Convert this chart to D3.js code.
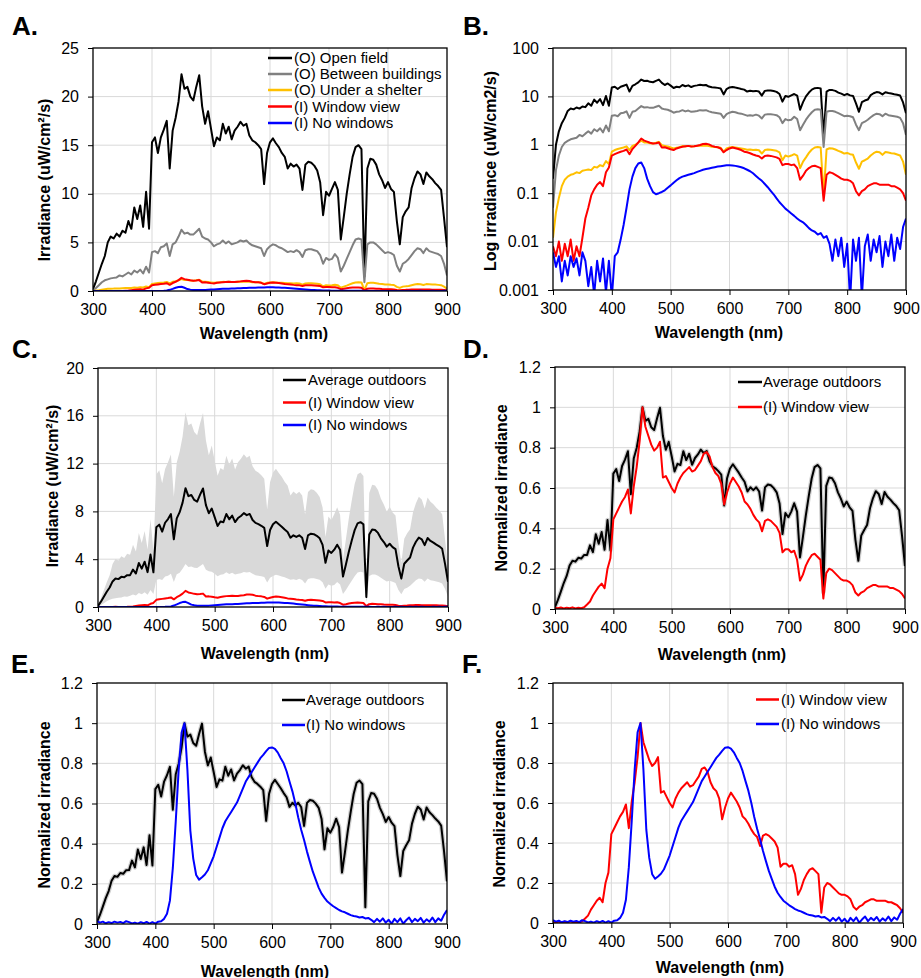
<!DOCTYPE html>
<html>
<head>
<meta charset="utf-8">
<script src="https://cdn.jsdelivr.net/npm/d3@7"></script>
<style>
    body { margin: 0; background: #fff; }
    svg { display: block; font-family: "Liberation Sans", Arial, sans-serif; }
</style>
</head>
<body>
<svg id="chart" width="921" height="978"></svg>
<script>
// wavelength grid (nm), 5 nm steps
const wavelengths = d3.range(300, 901, 5)

const openField = [
    0.2, 1.0, 1.9, 2.8, 3.6, 5.0, 5.6, 5.4, 5.9, 5.6,
    6.2, 6.0, 7.2, 6.4, 8.6, 7.4, 8.8, 6.6, 10.2, 6.4,
    15.3, 15.8, 14.2, 15.8, 16.6, 17.5, 12.6, 16.5, 17.8, 19.5,
    22.3, 20.8, 21.0, 20.0, 19.6, 21.0, 22.2, 19.0, 17.2, 18.5,
    16.7, 14.9, 15.8, 15.5, 17.2, 16.2, 16.9, 15.6, 16.5, 16.9,
    17.4, 17.0, 17.2, 16.0, 15.5, 15.3, 15.0, 14.6, 11.0, 14.2,
    15.3, 15.7, 15.2, 14.8, 14.2, 13.8, 12.6, 13.1, 12.8, 13.0,
    12.6, 10.4, 13.0, 13.3, 13.2, 12.9, 12.4, 11.2, 7.8, 10.2,
    9.8, 10.5, 11.2, 10.4, 5.3, 7.6, 10.0, 12.0, 13.8, 14.8,
    15.0, 14.6, 1.5, 12.6, 13.6, 13.5, 13.0, 12.0, 11.4, 10.6,
    11.2, 10.5, 10.2, 7.2, 4.8, 7.6, 8.2, 8.6, 10.6, 11.6,
    12.3, 12.0, 11.0, 12.2, 11.8, 11.5, 11.1, 10.8, 10.4, 7.5,
    4.5
]
const betweenBuildings = [
    0.05, 0.3, 0.6, 0.9, 1.1, 1.2, 1.3, 1.35, 1.4, 1.6,
    1.5, 1.7, 1.9, 1.7, 2.1, 1.9, 2.2, 1.8, 2.5, 1.9,
    4.0, 4.1, 3.9, 4.5, 4.6, 4.9, 3.6, 4.8, 5.0, 5.6,
    6.3, 5.9, 6.0, 5.8, 5.8, 6.1, 6.4, 5.6, 5.4, 5.3,
    5.0, 4.6, 4.8, 4.9, 5.2, 4.9, 5.1, 4.8, 4.9, 5.0,
    5.2, 5.1, 5.2, 4.9, 4.7, 4.6, 4.5, 4.4, 3.6, 4.3,
    4.6, 4.8, 4.7, 4.5, 4.4, 4.2, 4.0, 4.1, 4.0, 4.2,
    4.0, 3.5, 4.2, 4.3, 4.3, 4.2, 4.1, 3.7, 2.8, 3.4,
    3.2, 3.3, 3.8, 3.4, 2.0, 2.6, 3.3, 4.0, 4.7, 5.3,
    5.4, 5.3, 0.9, 4.8, 5.0, 5.0, 4.8, 4.5, 4.2, 3.9,
    4.0, 3.9, 3.7, 2.6, 2.0, 2.8, 3.0, 3.3, 3.7, 4.1,
    4.4, 4.3, 3.9, 4.4, 4.1, 4.0, 3.9, 3.8, 3.6, 2.8,
    1.6
]
const underShelter = [
    0.012, 0.04, 0.08, 0.14, 0.19, 0.22, 0.24, 0.25, 0.27, 0.26,
    0.29, 0.30, 0.31, 0.30, 0.35, 0.34, 0.38, 0.36, 0.46, 0.40,
    0.72, 0.78, 0.82, 0.85, 0.88, 0.93, 0.78, 0.95, 1.0, 1.1,
    1.22, 1.12, 1.12, 1.08, 1.06, 1.1, 1.15, 0.98, 0.95, 0.92,
    0.88, 0.84, 0.87, 0.89, 0.94, 0.92, 0.95, 0.92, 0.93, 0.95,
    0.97, 0.96, 0.97, 0.94, 0.91, 0.9, 0.89, 0.87, 0.72, 0.84,
    0.88, 0.9, 0.88, 0.86, 0.84, 0.82, 0.79, 0.8, 0.78, 0.79,
    0.77, 0.66, 0.78, 0.8, 0.79, 0.77, 0.75, 0.7, 0.48, 0.6,
    0.57, 0.6, 0.64, 0.6, 0.33, 0.45, 0.55, 0.68, 0.8, 0.88,
    0.9, 0.88, 0.09, 0.8, 0.85, 0.84, 0.8, 0.75, 0.71, 0.66,
    0.68, 0.64, 0.62, 0.43, 0.32, 0.45, 0.48, 0.52, 0.6, 0.67,
    0.72, 0.7, 0.62, 0.71, 0.69, 0.67, 0.66, 0.63, 0.6, 0.45,
    0.24
]
const windowView = [
    0.008, 0.005, 0.010, 0.004, 0.009, 0.005, 0.011, 0.004, 0.008, 0.005,
    0.012, 0.03, 0.05, 0.09, 0.12, 0.15, 0.17, 0.14, 0.27, 0.34,
    0.60, 0.64, 0.68, 0.72, 0.75, 0.80, 0.64, 0.82, 0.95, 1.12,
    1.35, 1.22, 1.16, 1.10, 1.06, 1.08, 1.12, 0.88, 0.89, 0.85,
    0.81, 0.78, 0.84, 0.88, 0.91, 0.93, 0.95, 0.92, 0.93, 0.96,
    0.99, 1.04, 1.05, 1.02, 0.95, 0.91, 0.89, 0.84, 0.70, 0.78,
    0.84, 0.88, 0.85, 0.82, 0.78, 0.72, 0.70, 0.67, 0.63, 0.60,
    0.58, 0.52, 0.59, 0.60, 0.59, 0.57, 0.55, 0.51, 0.38, 0.40,
    0.40, 0.38, 0.39, 0.33, 0.19, 0.23, 0.29, 0.33, 0.36, 0.37,
    0.35, 0.33, 0.07, 0.24, 0.27, 0.26, 0.24, 0.22, 0.20, 0.19,
    0.19, 0.18, 0.16, 0.11, 0.09, 0.11, 0.12, 0.14, 0.15, 0.16,
    0.16, 0.15, 0.15, 0.15, 0.15, 0.14, 0.14, 0.13, 0.12, 0.10,
    0.07
]
const noWindows = [
    0.006, 0.003, 0.005, 0.0015, 0.004, 0.002, 0.005, 0.003, 0.0045, 0.002,
    0.006, 0.004, 0.0012, 0.003, 0.0008, 0.004, 0.0015, 0.0045, 0.0009, 0.004,
    0.0007, 0.005, 0.006, 0.011, 0.022, 0.05, 0.12, 0.22, 0.33, 0.41,
    0.43, 0.33, 0.2, 0.14, 0.105, 0.095, 0.1, 0.106, 0.115, 0.13,
    0.145, 0.165, 0.185, 0.205, 0.22, 0.23, 0.24, 0.25, 0.26, 0.275,
    0.29, 0.305, 0.315, 0.325, 0.335, 0.345, 0.355, 0.362, 0.37, 0.377,
    0.378, 0.375, 0.367, 0.355, 0.344, 0.327, 0.305, 0.284, 0.258, 0.228,
    0.202, 0.18, 0.155, 0.133, 0.112, 0.095, 0.078, 0.065, 0.056, 0.048,
    0.043, 0.038, 0.034, 0.03, 0.027, 0.025, 0.022, 0.019, 0.017, 0.016,
    0.014, 0.015, 0.012, 0.013, 0.009, 0.004, 0.011, 0.005, 0.012, 0.003,
    0.009, 0.0006, 0.011, 0.004, 0.012, 0.0007, 0.008, 0.014, 0.004, 0.011,
    0.006, 0.013, 0.003, 0.01, 0.005, 0.014, 0.004, 0.012, 0.007, 0.02,
    0.03
]

const xTicks = [300, 400, 500, 600, 700, 800, 900]
const irrTicks = [0, 5, 10, 15, 20, 25]
const logTicks = [0.001, 0.01, 0.1, 1, 10, 100]
const avgTicks = [0, 4, 8, 12, 16, 20]
const normTicks = [0, 0.2, 0.4, 0.6, 0.8, 1, 1.2]

// derived series: mean +/- SEM of the outdoor spectra, and peak-normalized spectra
const outdoor = [openField, betweenBuildings, underShelter]
const avgOutdoors = wavelengths.map((w, i) => d3.mean(outdoor, s => s[i]))
const semOutdoors = wavelengths.map((w, i) => d3.deviation(outdoor, s => s[i]) / Math.sqrt(outdoor.length))
const normalize = arr => { const m = d3.max(arr); return arr.map(v => v / m) }
const avgNorm = normalize(avgOutdoors)
const windowNorm = normalize(windowView)
const noWindowsNorm = normalize(noWindows)

const BLACK = "#000000", GREY = "#808080", YELLOW = "#FFC000", RED = "#FF0000", BLUE = "#0000FF"

const svg = d3.select("#chart")
const fmt = d3.format("~g")

function drawPanel(p) {
    const g = svg.append("g")
    const x = d3.scaleLinear().domain([300, 900]).range([p.left, p.right])
    const y = (p.log ? d3.scaleLog() : d3.scaleLinear()).domain(p.yDomain).range([p.bottom, p.top])

    svg.append("clipPath").attr("id", "clip-" + p.id)
        .append("rect")
        .attr("x", p.left).attr("y", p.top)
        .attr("width", p.right - p.left).attr("height", p.bottom - p.top)

    // gridlines
    g.append("g").selectAll("line").data(xTicks.slice(1, -1)).enter().append("line")
        .attr("x1", d => x(d)).attr("x2", d => x(d))
        .attr("y1", p.top).attr("y2", p.bottom)
        .attr("stroke", "#d9d9d9").attr("stroke-width", 1)
    g.append("g").selectAll("line").data(p.yTicks.slice(1, -1)).enter().append("line")
        .attr("x1", p.left).attr("x2", p.right)
        .attr("y1", d => y(d)).attr("y2", d => y(d))
        .attr("stroke", "#d9d9d9").attr("stroke-width", 1)

    const plot = g.append("g").attr("clip-path", `url(#clip-${p.id})`)

    if (p.band) {
        const area = d3.area()
            .x((d, i) => x(wavelengths[i]))
            .y0(d => y(d[0]))
            .y1(d => y(d[1]))
        plot.append("path")
            .datum(p.band)
            .attr("d", area)
            .attr("fill", "#d9d9d9")
    }

    const line = d3.line()
        .x((d, i) => x(wavelengths[i]))
        .y(d => y(d))

    p.series.forEach(s => {
        plot.append("path")
            .datum(s.values)
            .attr("d", line)
            .attr("fill", "none")
            .attr("stroke", s.color)
            .attr("stroke-width", s.width || 2)
            .attr("stroke-linejoin", "round")
    })

    // frame
    g.append("rect")
        .attr("x", p.left).attr("y", p.top)
        .attr("width", p.right - p.left).attr("height", p.bottom - p.top)
        .attr("fill", "none").attr("stroke", "#000").attr("stroke-width", 1.3)

    // axes
    const xAxis = g.append("g")
        .attr("transform", `translate(0,${p.bottom})`)
        .call(d3.axisBottom(x).tickValues(xTicks).tickSize(5).tickPadding(8).tickFormat(d3.format("d")))
    const yAxis = g.append("g")
        .attr("transform", `translate(${p.left},0)`)
        .call(d3.axisLeft(y).tickValues(p.yTicks).tickSize(5).tickPadding(9).tickFormat(fmt))
    ;[xAxis, yAxis].forEach(a => {
        a.select(".domain").remove()
        a.selectAll("line").attr("stroke", "#000")
        a.selectAll("text").attr("font-size", 16).attr("fill", "#000")
            .attr("font-family", "\"Liberation Sans\", Arial, sans-serif")
    })

    // titles
    g.append("text")
        .attr("x", p.letter[0]).attr("y", p.letter[1])
        .attr("font-size", 26).attr("font-weight", "bold")
        .text(p.label)
    g.append("text")
        .attr("x", p.xTitle[0]).attr("y", p.xTitle[1])
        .attr("text-anchor", "middle")
        .attr("font-size", 16).attr("font-weight", "bold")
        .text("Wavelength (nm)")
    g.append("text")
        .attr("transform", `translate(${p.yTitle[0]},${p.yTitle[1]}) rotate(-90)`)
        .attr("text-anchor", "middle")
        .attr("font-size", 16).attr("font-weight", "bold")
        .text(p.yLabel)

    // legend
    if (p.legend) {
        const lg = g.append("g")
        p.legend.items.forEach((it, i) => {
            const ry = p.legend.rows[i]
            lg.append("line")
                .attr("x1", p.legend.x1).attr("x2", p.legend.x2)
                .attr("y1", ry).attr("y2", ry)
                .attr("stroke", it.color).attr("stroke-width", 2.5)
            lg.append("text")
                .attr("x", p.legend.tx).attr("y", ry + 5.3)
                .attr("font-size", 15)
                .text(it.label)
        })
    }
}

const legendAll = [
    { label: "(O) Open field", color: BLACK },
    { label: "(O) Between buildings", color: GREY },
    { label: "(O) Under a shelter", color: YELLOW },
    { label: "(I) Window view", color: RED },
    { label: "(I) No windows", color: BLUE }
]
const seriesAll = [
    { values: openField, color: BLACK },
    { values: betweenBuildings, color: GREY },
    { values: underShelter, color: YELLOW },
    { values: windowView, color: RED },
    { values: noWindows, color: BLUE }
]

drawPanel({
    id: "a", label: "A.", letter: [12, 35],
    left: 93, right: 447, top: 48, bottom: 291,
    yDomain: [0, 25], yTicks: irrTicks,
    xTitle: [264, 339], yTitle: [50, 180], yLabel: "Irradiance (uW/cm\u00b2/s)",
    series: seriesAll,
    legend: { x1: 268, x2: 292, tx: 294, rows: [58, 74, 90, 106.5, 123], items: legendAll }
})

drawPanel({
    id: "b", label: "B.", letter: [463, 35],
    left: 553, right: 906, top: 48, bottom: 290,
    log: true, yDomain: [0.001, 100], yTicks: logTicks,
    xTitle: [719, 338], yTitle: [496, 171], yLabel: "Log irradiance (uW/cm2/s)",
    series: seriesAll
})

drawPanel({
    id: "c", label: "C.", letter: [12, 358],
    left: 98, right: 448, top: 368, bottom: 607,
    yDomain: [0, 20], yTicks: avgTicks,
    xTitle: [265, 659], yTitle: [58, 486], yLabel: "Irradiance (uW/cm\u00b2/s)",
    band: avgOutdoors.map((m, i) => [m - semOutdoors[i], m + semOutdoors[i]]),
    series: [
        { values: avgOutdoors, color: BLACK },
        { values: windowView, color: RED },
        { values: noWindows, color: BLUE }
    ],
    legend: { x1: 283, x2: 306, tx: 308, rows: [380, 402.5, 425], items: [
        { label: "Average outdoors", color: BLACK },
        { label: "(I) Window view", color: RED },
        { label: "(I) No windows", color: BLUE }
    ] }
})

drawPanel({
    id: "d", label: "D.", letter: [463, 358],
    left: 555, right: 905, top: 367, bottom: 609,
    yDomain: [0, 1.2], yTicks: normTicks,
    xTitle: [722, 660], yTitle: [507, 488], yLabel: "Normalized irradiance",
    series: [
        { values: avgNorm, color: "#d0d0d0", width: 4.5 },
        { values: avgNorm, color: BLACK },
        { values: windowNorm, color: RED }
    ],
    legend: { x1: 738, x2: 762, tx: 763, rows: [382, 407], items: [
        { label: "Average outdoors", color: BLACK },
        { label: "(I) Window view", color: RED }
    ] }
})

drawPanel({
    id: "e", label: "E.", letter: [11, 673],
    left: 97, right: 447, top: 683, bottom: 924,
    yDomain: [0, 1.2], yTicks: normTicks,
    xTitle: [265, 976.5], yTitle: [50, 805], yLabel: "Normalized irradiance",
    series: [
        { values: avgNorm, color: "#d0d0d0", width: 4.5 },
        { values: avgNorm, color: BLACK },
        { values: noWindowsNorm, color: BLUE }
    ],
    legend: { x1: 282, x2: 305, tx: 306, rows: [700, 725], items: [
        { label: "Average outdoors", color: BLACK },
        { label: "(I) No windows", color: BLUE }
    ] }
})

drawPanel({
    id: "f", label: "F.", letter: [462, 673],
    left: 553, right: 903, top: 683, bottom: 923,
    yDomain: [0, 1.2], yTicks: normTicks,
    xTitle: [720, 973], yTitle: [505, 804], yLabel: "Normalized irradiance",
    series: [
        { values: windowNorm, color: RED },
        { values: noWindowsNorm, color: BLUE }
    ],
    legend: { x1: 756, x2: 779, tx: 781, rows: [699.5, 724], items: [
        { label: "(I) Window view", color: RED },
        { label: "(I) No windows", color: BLUE }
    ] }
})
</script>
</body>
</html>
